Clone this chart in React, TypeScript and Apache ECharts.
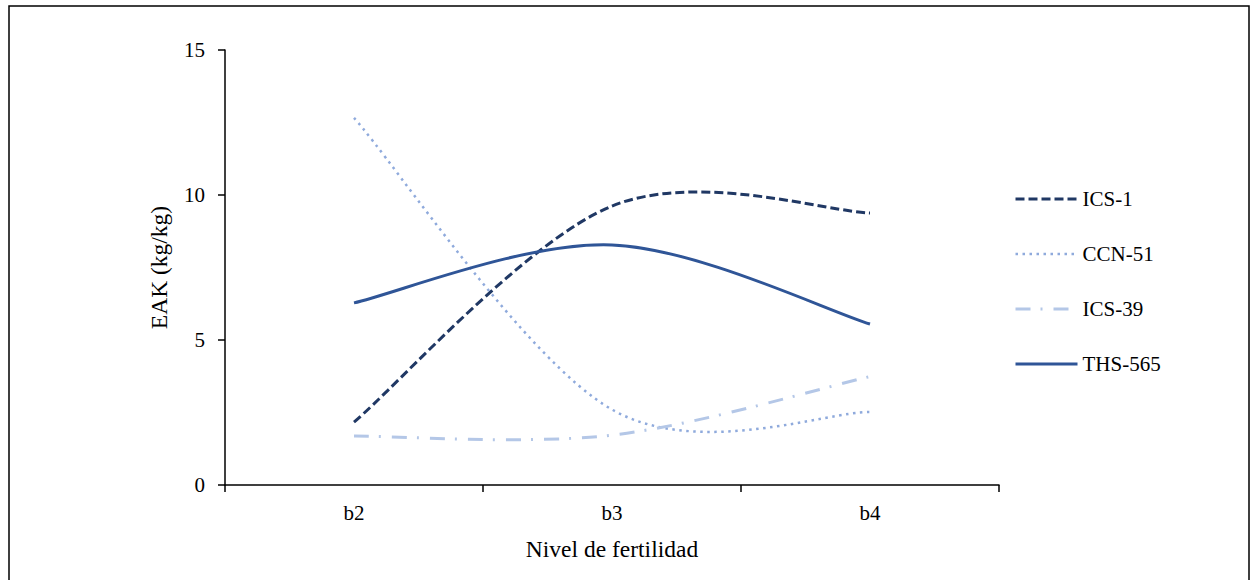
import React, { useEffect, useRef } from "react";
import * as echarts from "echarts";

const categories = ["b2", "b3", "b4"];
const ics1 = [2.17, 9.62, 9.38];
const ccn51 = [12.66, 2.6, 2.52];
const ics39 = [1.69, 1.72, 3.74];
const ths565 = [6.28, 8.28, 5.55];
const seriesNames = ["ICS-1", "CCN-51", "ICS-39", "THS-565"];

const FONT = "Liberation Serif";

const styles = [
  { color: "#203864", width: 3, dash: [9, 4] },
  { color: "#8FAADC", width: 2.5, dash: [2.5, 4.5] },
  { color: "#B4C7E7", width: 3, dash: [15, 10, 2, 11] },
  { color: "#2F5597", width: 3, dash: null as any },
];

// Excel-like smoothed curve (Bezier with 1/6 chord control points)
function smoothPath(pts: number[][]): string {
  const n = pts.length;
  let d = `M${pts[0][0]},${pts[0][1]}`;
  for (let i = 0; i < n - 1; i++) {
    const p0 = pts[Math.max(i - 1, 0)];
    const p1 = pts[i];
    const p2 = pts[i + 1];
    const p3 = pts[Math.min(i + 2, n - 1)];
    const c1x = p1[0] + (p2[0] - p0[0]) / 6;
    const c1y = p1[1] + (p2[1] - p0[1]) / 6;
    const c2x = p2[0] - (p3[0] - p1[0]) / 6;
    const c2y = p2[1] - (p3[1] - p1[1]) / 6;
    d += ` C${c1x},${c1y} ${c2x},${c2y} ${p2[0]},${p2[1]}`;
  }
  return d;
}

export default function App() {
  const ref = useRef<HTMLDivElement>(null);
  useEffect(() => {
    const chart = echarts.init(ref.current!, null, { renderer: "svg" });
    const allValues = [ics1, ccn51, ics39, ths565];

    // hidden line series only supply the legend icons
    const legendSeries = allValues.map((vals, k) => ({
      name: seriesNames[k],
      type: "line",
      data: vals,
      symbol: "none",
      showSymbol: false,
      silent: true,
      z: 1,
      lineStyle: {
        color: styles[k].color,
        width: styles[k].width,
        type: styles[k].dash || "solid",
        opacity: 0,
      },
      itemStyle: { color: styles[k].color },
    }));

    const curveSeries = allValues.map((vals, k) => ({
      name: seriesNames[k],
      type: "custom",
      data: vals.map((v, i) => [i, v]),
      z: 3,
      silent: true,
      renderItem: (params: any, api: any) => {
        if (params.dataIndex !== 0) return { type: "group", children: [] };
        const pts = vals.map((v, i) => api.coord([i, v]));
        return {
          type: "path",
          shape: { pathData: smoothPath(pts) },
          style: {
            fill: "none",
            stroke: styles[k].color,
            lineWidth: styles[k].width,
            lineDash: styles[k].dash || undefined,
            lineCap: "butt",
          },
        };
      },
    }));

    chart.setOption({
      animation: false,
      backgroundColor: "#fff",
      textStyle: { fontFamily: FONT, color: "#000" },
      grid: { left: 225, top: 50, width: 774, height: 435 },
      legend: {
        orient: "vertical",
        left: 1009,
        top: 183,
        itemWidth: 62,
        itemHeight: 14,
        itemGap: 33,
        itemStyle: { opacity: 0 },
        data: seriesNames.map((n, k) => ({
          name: n,
          lineStyle: { opacity: 1, width: styles[k].width },
        })),
        textStyle: { fontFamily: FONT, fontSize: 21, color: "#000", lineHeight: 22 },
      },
      xAxis: {
        type: "category",
        data: categories,
        name: "Nivel de fertilidad",
        nameLocation: "middle",
        nameGap: 52,
        nameTextStyle: { fontFamily: FONT, fontSize: 23.5, color: "#000" },
        axisLine: { lineStyle: { color: "#000", width: 1.5 } },
        axisTick: { show: true, length: 7, lineStyle: { color: "#000", width: 1.5 } },
        axisLabel: { fontFamily: FONT, fontSize: 21, color: "#000", margin: 17 },
        splitLine: { show: false },
      },
      yAxis: {
        type: "value",
        min: 0,
        max: 15,
        interval: 5,
        name: "EAK (kg/kg)",
        nameLocation: "middle",
        nameGap: 54,
        nameTextStyle: { fontFamily: FONT, fontSize: 23.5, color: "#000" },
        axisLine: { show: true, lineStyle: { color: "#000", width: 1.5 } },
        axisTick: { show: true, length: 7, lineStyle: { color: "#000", width: 1.5 } },
        axisLabel: { fontFamily: FONT, fontSize: 21, color: "#000", margin: 20 },
        splitLine: { show: false },
      },
      graphic: [
        {
          type: "rect",
          shape: { x: 9, y: 6, width: 1240, height: 600 },
          style: { fill: "none", stroke: "#000", lineWidth: 1.5 },
          silent: true,
        },
      ],
      series: [...legendSeries, ...curveSeries],
    });
    return () => chart.dispose();
  }, []);
  return (
    <div
      ref={ref}
      style={{ position: "absolute", left: 0, top: 0, width: 1251, height: 580 }}
    />
  );
}
